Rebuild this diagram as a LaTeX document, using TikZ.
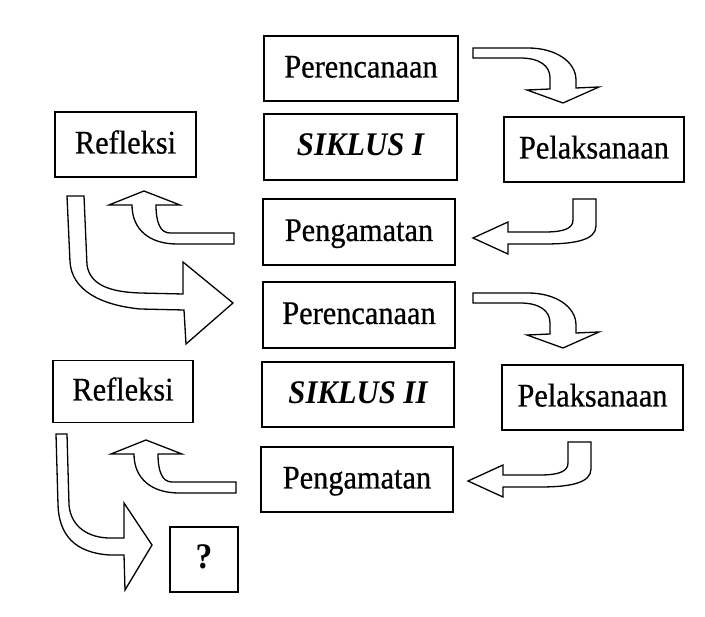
\documentclass[tikz,border=0pt]{standalone}
\usepackage{fontspec}
\setmainfont{Liberation Serif}
\newfontfamily\regfont{Liberation Serif}[FakeStretch=0.92,FakeBold=0.6]
\newfontfamily\sikfont{Liberation Serif}[FakeStretch=0.93]
\begin{document}
\begin{tikzpicture}[x=1pt,y=-1pt,
  box/.style={draw=black,line width=1.2pt,rectangle,inner sep=0pt,
    font=\fontsize{33}{38}\selectfont\regfont,text height=24pt,text depth=6pt},
  sik/.style={font=\fontsize{33}{38}\selectfont\sikfont\bfseries\itshape},
  blockarrow/.style={draw=black,fill=white,line width=1.3pt,line join=miter}]
\useasboundingbox[fill=white] (0,0) rectangle (705,617);

% boxes
\node[box,minimum width=194pt,minimum height=65pt] (p1) at (361,68.5) {Perencanaan};
\node[box,sik,minimum width=193pt,minimum height=66pt] (s1) at (360.5,147) {SIKLUS I};
\node[box,minimum width=141pt,minimum height=65pt] (r1) at (125.5,144.5) {Refleksi};
\node[box,minimum width=180pt,minimum height=65pt] (l1) at (594,149.5) {Pelaksanaan};
\node[box,minimum width=192pt,minimum height=66pt] (g1) at (359,232) {Pengamatan};
\node[box,minimum width=192pt,minimum height=66pt] (p2) at (359,315) {Perencanaan};
\node[box,minimum width=140pt,minimum height=62pt] (r2) at (123,391.5) {Refleksi};
\node[box,sik,minimum width=192pt,minimum height=65pt] (s2) at (358,394.5) {SIKLUS II};
\node[box,minimum width=181pt,minimum height=65pt] (l2) at (592.5,397.5) {Pelaksanaan};
\node[box,minimum width=192pt,minimum height=65pt] (g2) at (357,479.5) {Pengamatan};
\node[box,minimum width=68pt,minimum height=65pt,font=\fontsize{36}{40}\selectfont\sikfont\bfseries] (q) at (204,559.5) {?};

% Perencanaan -> Pelaksanaan (both cycles)
\foreach \dy in {0,245}{
\begin{scope}[yshift=-\dy pt]
\draw[blockarrow] (473,48) -- (528,48) .. controls (556,48) and (576,62) .. (576,80)
  -- (576,88) -- (599,87) -- (563,103) -- (527,90) -- (550,89) -- (550,78)
  .. controls (550,66) and (540,58) .. (520,58) -- (473,58) -- cycle;
\end{scope}}

% Pelaksanaan -> Pengamatan
\foreach \dx/\dy in {0/0,-5/243}{
\begin{scope}[xshift=\dx pt,yshift=-\dy pt]
\draw[blockarrow] (573,199) -- (596,199) -- (596,226)
  .. controls (596,240) and (575,244) .. (545,244) -- (508,244) -- (508,254)
  -- (473,238) -- (508,222) -- (508,232) -- (545,232)
  .. controls (565,232) and (573,228) .. (573,220) -- cycle;
\end{scope}}

% Pengamatan -> Refleksi
\foreach \dx/\dy in {0/0,2/249}{
\begin{scope}[xshift=\dx pt,yshift=-\dy pt]
\draw[blockarrow] (234,233) -- (170,233) .. controls (160,233) and (156,222) .. (156,205)
  -- (180,205) -- (144,191) -- (109,205) -- (132,205)
  .. controls (132,230) and (150,244) .. (177,244) -- (234,244) -- cycle;
\end{scope}}

% Refleksi I -> Perencanaan II
\draw[blockarrow] (67,196) -- (84,196) -- (87,265) .. controls (90,285) and (110,292) .. (140,293)
  -- (183,294) -- (183,262) -- (233,303) -- (186,344) -- (184,310) -- (140,309)
  .. controls (100,305) and (72,290) .. (70,262) -- cycle;

% Refleksi II -> ?
\draw[blockarrow] (56,434) -- (67,434) -- (69,505) .. controls (71,528) and (90,538) .. (110,538)
  -- (124,538) -- (124,503) -- (152,545) -- (125,590) -- (124,555) -- (110,555)
  .. controls (75,553) and (59,535) .. (58,505) -- cycle;
\end{tikzpicture}
\end{document}
